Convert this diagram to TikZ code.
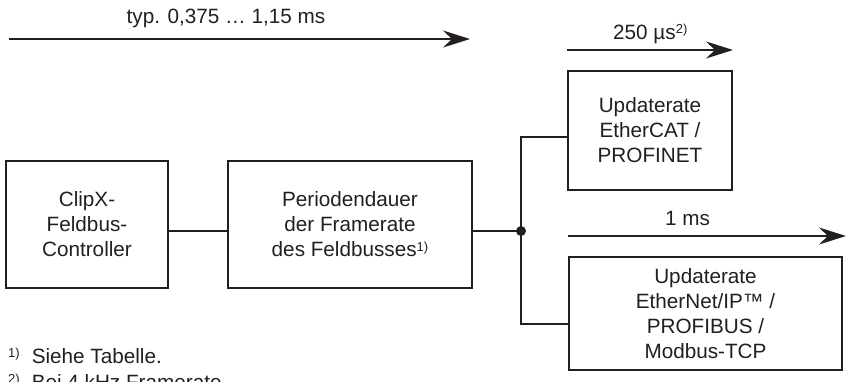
\documentclass[tikz,border=0pt]{standalone}
\usepackage{fontspec}
\setmainfont{Liberation Sans}
\usetikzlibrary{arrows.meta}
\definecolor{ink}{RGB}{35,31,32}
\newcommand{\fnmark}[1]{{\fontsize{13}{13}\selectfont\raisebox{5.5pt}{#1}}}
\begin{document}
\begin{tikzpicture}[x=1pt,y=-1pt,
  font=\fontsize{20.7}{25}\selectfont, text=ink,
  box/.style={draw=ink, line width=2pt, align=center, inner sep=0pt},
  wire/.style={draw=ink, line width=1.3pt},
  timearrow/.style={draw=ink, line width=1.5pt, -{Stealth[length=27pt,width=17pt,inset=9pt]}}]

\useasboundingbox (0,0) rectangle (846,381);

\def \wireup {137}
\def \wiredown {324}

% boxes
\node[box, minimum width=162, minimum height=127] (ctrl) at (87,224.5) {ClipX-\\Feldbus-\\Controller};
\node[box, minimum width=244, minimum height=127] (frame) at (350,224.5) {Periodendauer\\der Framerate\\des Feldbusses\fnmark{1)}};
\node[box, minimum width=164, minimum height=119] (ecat) at (650,130.5) {Updaterate\\EtherCAT /\\PROFINET};
\node[box, minimum width=273, minimum height=113] (eip) at (705.5,313.5) {Updaterate\\EtherNet/IP™ /\\PROFIBUS /\\Modbus-TCP};

% wiring
\coordinate (jn) at (521,231);
\coordinate (jup) at (521,\wireup);
\coordinate (jdown) at (521,\wiredown);
\draw[wire] (ctrl.east |- jn) -- (frame.west |- jn);
\draw[wire] (frame.east |- jn) -- (jn);
\draw[wire] (jup -| ecat.west) -- (jup) -- (jdown) -- (jdown -| eip.west);
\fill[ink] (jn) circle [radius=5];

% time arrows
\coordinate (top0) at (9,39);
\coordinate (top1) at (470,39);
\draw[timearrow] (top0) -- (top1);
\node[anchor=base] (toplabel) at (226,23) {typ. 0,375 … 1,15 ms};

\coordinate (ecat0) at (ecat.west |- 0,50);
\coordinate (ecat1) at (ecat.east |- 0,50);
\draw[timearrow] (ecat0) -- (ecat1);
\node[anchor=base west, inner sep=0pt] (ecatlabel) at (613,39) {250 µs\fnmark{2)}};

\coordinate (eip0) at (eip.west |- 0,236);
\coordinate (eip1) at (846,236);
\draw[timearrow] (eip0) -- (eip1);
\node[anchor=base west, inner sep=0pt] (eiplabel) at (665,225) {1 ms};

% footnotes
\node[anchor=base west, inner sep=0pt] (fn1) at (8,363) {\fnmark{1)}\hspace{12pt}Siehe Tabelle.};
\node[anchor=base west, inner sep=0pt] (fn2) at (8,389) {\fnmark{2)}\hspace{12pt}Bei 4 kHz Framerate};
\end{tikzpicture}
\end{document}
